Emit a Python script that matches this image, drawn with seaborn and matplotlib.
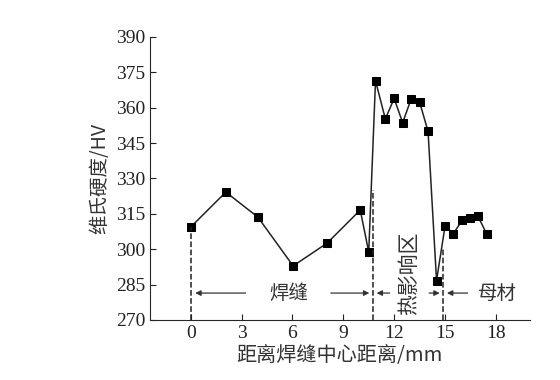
# Vickers hardness profile across the weld, HAZ and base metal
import numpy as np
import pandas as pd
import matplotlib.pyplot as plt
import seaborn as sns

dist = [0, 2.07, 3.96, 6.04, 8.05, 10.0, 10.5, 10.9, 11.48, 12.0, 12.5, 13.0, 13.5,
        14.0, 14.5, 15.0, 15.5, 16.0, 16.5, 16.95, 17.45]
hv = [309.4, 324.2, 313.6, 292.9, 302.6, 316.6, 298.8, 371.4, 355.2, 363.9, 353.6,
      363.6, 362.4, 349.9, 286.7, 309.7, 306.6, 312.2, 313.4, 313.9, 306.6]

zone_edges = [0, 10.75, 14.9]
zone_tops = [309.4, 325, 300]
xticks = [0, 3, 6, 9, 12, 15, 18]
yticks = [270, 285, 300, 315, 330, 345, 360, 375, 390]

df = pd.DataFrame({'dist': dist, 'hv': hv})

sns.set_style('ticks')
plt.rcParams['font.family'] = ['Liberation Serif', 'Noto Sans CJK SC']
cjk = ['Noto Sans CJK SC', 'DejaVu Sans']

fig = plt.figure(figsize=(5.6, 3.8), dpi=100)
ax = fig.add_axes([0.268, 0.158, 0.678, 0.745])

sns.lineplot(data=df, x='dist', y='hv', ax=ax, color='#222222', linewidth=1.1,
             marker='s', markersize=6, markeredgecolor='black', markerfacecolor='black')

ax.vlines(zone_edges, 270, zone_tops, colors='#222222', linestyles='--', linewidth=1.1)

# zone arrows
akw = dict(arrowstyle='-|>', color='#333333', lw=0.9, mutation_scale=8)
ya = 281.4
ax.annotate('', xy=(0.1, ya), xytext=(3.4, ya), arrowprops=akw)
ax.annotate('', xy=(10.7, ya), xytext=(8.1, ya), arrowprops=akw)
ax.annotate('', xy=(10.8, ya), xytext=(11.9, ya), arrowprops=akw)
ax.annotate('', xy=(14.85, ya), xytext=(13.9, ya), arrowprops=akw)
ax.annotate('', xy=(14.95, ya), xytext=(16.5, ya), arrowprops=akw)
ax.text(5.8, ya, '焊缝', family=cjk, fontsize=14, ha='center', va='center', color='#333333')
ax.text(18.1, ya, '母材', family=cjk, fontsize=14, ha='center', va='center', color='#333333')
ax.text(12.85, 290, '热影响区', family=cjk, fontsize=15, ha='center', va='center',
        rotation=90, color='#333333')

ax.set_xlim(-2.4, 20)
ax.set_ylim(270, 390)
ax.set_xticks(xticks)
ax.set_yticks(yticks)
ax.tick_params(direction='in', length=4, labelsize=14, colors='#222222')
ax.set_xlabel('距离焊缝中心距离/mm', family=cjk, fontsize=14.5, color='#333333', labelpad=2)
ax.set_ylabel('维氏硬度/HV', family=cjk, fontsize=14, color='#333333', labelpad=4)
sns.despine(ax=ax)

fig.savefig('out.png', dpi=100)
